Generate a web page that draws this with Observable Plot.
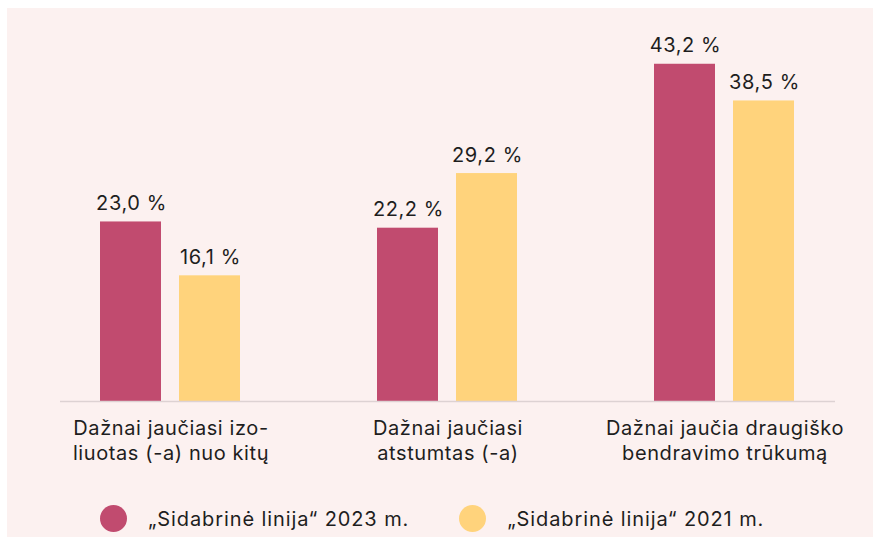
<!DOCTYPE html>
<html>
<head>
<meta charset="utf-8">
<script src="https://cdn.jsdelivr.net/npm/d3@7"></script>
<script src="https://cdn.jsdelivr.net/npm/@observablehq/plot@0.6"></script>
<style>
  html, body { margin: 0; padding: 0; background: #ffffff; }
  #wrap { position: absolute; left: 7px; top: 8px; width: 866px; height: 529px; background: #fcf1f0; overflow: hidden;
          font-family: Inter, "Noto Sans", sans-serif; color: #1e1e1e; }
  #chart svg { display: block; }
  #chart text { letter-spacing: 0.6px; }
  #legend { position: absolute; left: 93px; top: 497px; display: flex; align-items: center; font-size: 20px; letter-spacing: 0.9px; white-space: nowrap; }
  .item { display: flex; align-items: center; }
  .sw { width: 27px; height: 27px; border-radius: 50%; margin-right: 21px; }
</style>
</head>
<body>
<div id="wrap">
  <div id="chart"></div>
  <div id="legend"></div>
</div>
<script>
const categories = [
  "Dažnai jaučiasi izo-\nliuotas (-a) nuo kitų",
  "Dažnai jaučiasi\natstumtas (-a)",
  "Dažnai jaučia draugiško\nbendravimo trūkumą"
];
const series = ["„Sidabrinė linija“ 2023 m.", "„Sidabrinė linija“ 2021 m."];
const values2023 = [23.0, 22.2, 43.2];
const values2021 = [16.1, 29.2, 38.5];
const colors = ["#c14b6f", "#ffd37c"];

const fmt = v => v.toFixed(1).replace(".", ",") + " %";
const d2023 = categories.map((c, i) => ({category: c, value: values2023[i]}));
const d2021 = categories.map((c, i) => ({category: c, value: values2021[i]}));

const plot = Plot.plot({
  width: 866,
  height: 480,
  marginLeft: 53,
  marginRight: 38,
  marginTop: 30,
  marginBottom: 87,
  style: {background: "transparent", fontFamily: "Inter, Noto Sans, sans-serif", color: "#1e1e1e"},
  x: {domain: categories, range: [24.5, 855.5], padding: 0, axis: null},
  y: {domain: [0, 46.5], axis: null},
  marks: [
    Plot.barY(d2023, {x: "category", y: "value", fill: colors[0], insetLeft: 68, insetRight: 148}),
    Plot.barY(d2021, {x: "category", y: "value", fill: colors[1], insetLeft: 147, insetRight: 69}),
    Plot.ruleY([0], {stroke: "#ddd2d3", strokeWidth: 1.5}),
    Plot.text(d2023, {x: "category", y: "value", text: d => fmt(d.value), dx: -39.5, dy: -12,
      lineAnchor: "bottom", fontSize: 20, fill: "#1e1e1e"}),
    Plot.text(d2021, {x: "category", y: "value", text: d => fmt(d.value), dx: 39.5, dy: -12,
      lineAnchor: "bottom", fontSize: 20, fill: "#1e1e1e"}),
    Plot.text(categories, {x: d => d, y: 0, text: d => d.split("\n")[0], dy: 33.5, lineAnchor: "bottom",
      fontSize: 20, fill: "#1e1e1e"}),
    Plot.text(categories, {x: d => d, y: 0, text: d => d.split("\n")[1], dy: 58.5, lineAnchor: "bottom",
      fontSize: 20, fill: "#1e1e1e"})
  ]
});
document.getElementById("chart").appendChild(plot);

const legend = document.getElementById("legend");
series.forEach((s, i) => {
  const item = document.createElement("div");
  item.className = "item";
  if (i > 0) item.style.marginLeft = "50px";
  const sw = document.createElement("span");
  sw.className = "sw";
  sw.style.background = colors[i];
  const label = document.createElement("span");
  label.textContent = s;
  item.appendChild(sw);
  item.appendChild(label);
  legend.appendChild(item);
});
</script>
</body>
</html>
